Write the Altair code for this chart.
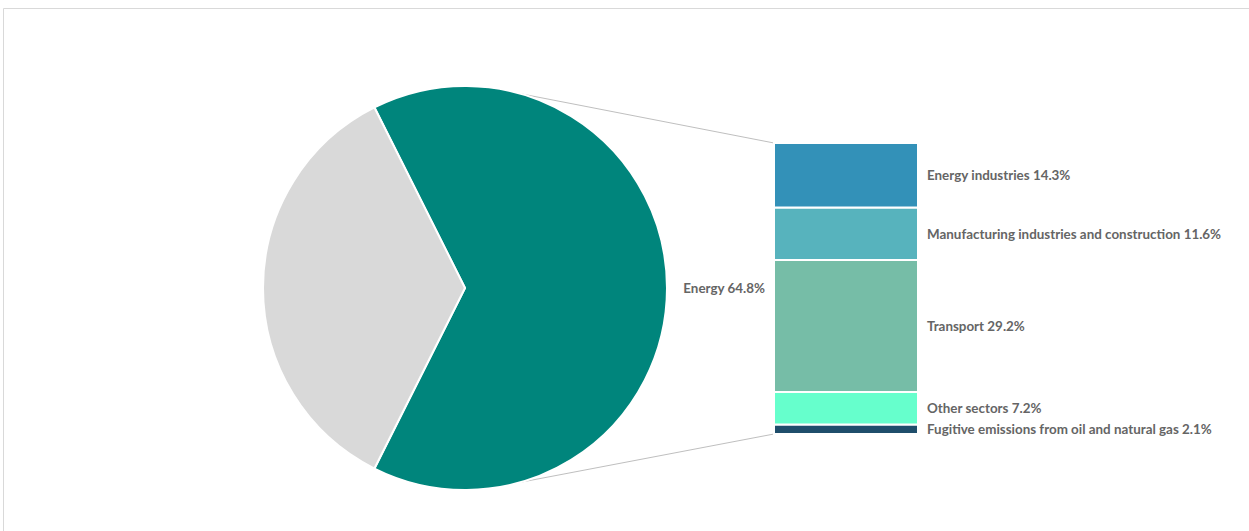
import math
import altair as alt
import pandas as pd

# ---- data ----
pie_labels = ["Energy", "Other"]
pie_values = [64.8, 35.2]
pie_colors = ["#00857C", "#D9D9D9"]

bar_labels = ["Energy industries", "Manufacturing industries and construction",
              "Transport", "Other sectors", "Fugitive emissions from oil and natural gas"]
bar_values = [14.3, 11.6, 29.2, 7.2, 2.1]
bar_colors = ["#3391B8", "#57B3BD", "#76BDA7", "#66FFCC", "#1F4E6B"]

# ---- layout ----
W, H = 1249, 531
CX, CY, R = 465, 288, 202
BAR_X0, BAR_X1 = 774, 918
BAR_TOP, BAR_BOT = 143, 434
LABEL_X = 927
FONT = "Lato"
FONT_SIZE = 13.4
FONT_WEIGHT = "bold"
TEXT_COLOR = "#656565"

pie_df = pd.DataFrame({"label": pie_labels, "value": pie_values,
                       "color": pie_colors, "order": range(len(pie_labels))})
start = math.pi / 2 - pie_values[0] / sum(pie_values) * math.pi + 2 * math.pi

# stacked bar: first item on top -> stack from bottom with reversed order
rows = []
acc = 0.0
for lab, val, col in reversed(list(zip(bar_labels, bar_values, bar_colors))):
    rows.append({"label": lab, "value": val, "color": col, "y0": acc, "y1": acc + val,
                 "mid": acc + val / 2, "text": f"{lab} {val}%"})
    acc += val
bar_df = pd.DataFrame(rows)
total = acc

yscale = alt.Scale(domain=[0, total], range=[BAR_BOT, BAR_TOP], nice=False, zero=False)

pie = alt.Chart(pie_df).mark_arc(outerRadius=R, stroke="white", strokeWidth=2).encode(
    theta=alt.Theta("value:Q", stack=True, scale=alt.Scale(range=[start, start + 2 * math.pi])),
    order=alt.Order("order:Q"),
    color=alt.Color("color:N", scale=None),
    x=alt.value(CX), y=alt.value(CY),
)

pie_label = alt.Chart(pie_df.iloc[[0]]).transform_calculate(
    text="datum.label + ' ' + datum.value + '%'"
).mark_text(align="right", baseline="middle", font=FONT, fontSize=FONT_SIZE,
            fontWeight=FONT_WEIGHT, color=TEXT_COLOR).encode(
    text="text:N", x=alt.value(765), y=alt.value(CY + 1),
)

bars = alt.Chart(bar_df).mark_rect(stroke="white", strokeWidth=2).encode(
    x=alt.value(BAR_X0), x2=alt.value(BAR_X1),
    y=alt.Y("y0:Q", scale=yscale, axis=None), y2="y1:Q",
    color=alt.Color("color:N", scale=None),
)

bar_text = alt.Chart(bar_df).mark_text(align="left", baseline="middle", font=FONT,
                                        fontSize=FONT_SIZE, fontWeight=FONT_WEIGHT,
                                        color=TEXT_COLOR, dy=1).encode(
    x=alt.value(LABEL_X), y=alt.Y("mid:Q", scale=yscale, axis=None), text="text:N",
)

# connectors from pie edge to bar top/bottom
a = math.radians(15.8)
xpix = alt.Scale(domain=[0, W], range=[0, W], nice=False, zero=False)
ypix = alt.Scale(domain=[0, H], range=[0, H], nice=False, zero=False)
conn_df = pd.DataFrame({
    "x": [CX + R * math.sin(a), CX + R * math.sin(a)],
    "y": [CY - R * math.cos(a), CY + R * math.cos(a)],
    "y2": [BAR_TOP, BAR_BOT],
})
connectors = alt.Chart(conn_df).mark_rule(color="#BFBFBF", strokeWidth=1).encode(
    x=alt.X("x:Q", scale=xpix, axis=None), y=alt.Y("y:Q", scale=ypix, axis=None),
    x2=alt.value(BAR_X0), y2="y2:Q",
)

frame = alt.Chart(pd.DataFrame({"a": [0]})).mark_rect(
    fill=None, stroke="#D9D9D9", strokeWidth=1).encode(
    x=alt.value(3.5), y=alt.value(8.5), x2=alt.value(W + 10), y2=alt.value(H + 10),
)

chart = alt.layer(frame, connectors, pie, pie_label, bars, bar_text).resolve_scale(
    y="independent", x="independent"
).properties(
    width=W, height=H, padding=0, autosize=alt.AutoSizeParams(type="none"),
    background="white",
).configure_view(stroke=None)

chart.save("out.html", embed_options={"renderer": "svg", "actions": False})
